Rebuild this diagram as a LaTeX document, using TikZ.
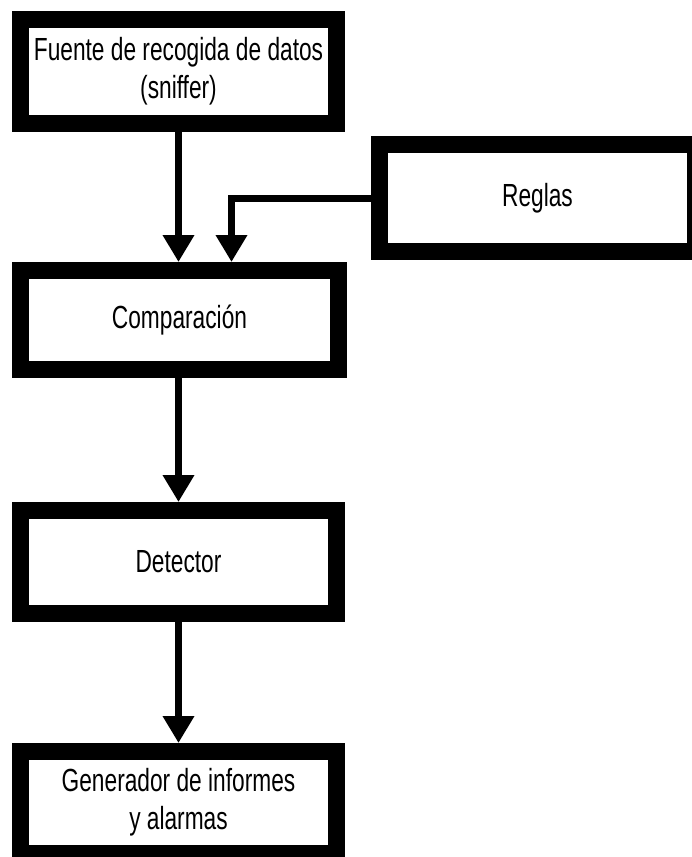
\documentclass[tikz,border=0pt]{standalone}
\usepackage{fontspec}
\setmainfont[FakeStretch=0.71]{Liberation Sans}
\usetikzlibrary{arrows.meta}

\tikzset{
  stage/.style={draw=black, line width=17pt, fill=white, inner sep=0pt,
    minimum width=316pt, align=center,
    font=\fontsize{32}{38}\selectfont},
  flow/.style={line width=7pt, draw=black,
    -{Triangle[width=30pt,length=27pt]}}
}

\begin{document}
\begin{tikzpicture}[x=1pt, y=-1pt]
  \useasboundingbox (0,0) rectangle (692,857);

  % processing stages
  \node[stage, minimum height=104pt] (src)    at (178.5, 71.5) {Fuente de recogida de datos\\(sniffer)};
  \node[stage, minimum height=107pt] (rules)  at (537.5, 198)  {Reglas};
  \node[stage, minimum height=99pt, minimum width=318pt] (comp) at (179.5, 320) {Comparación};
  \node[stage, minimum height=103pt] (det)    at (178.5, 562)  {Detector};
  \node[stage, minimum height=102pt] (gen)    at (178.5, 802.5) {Generador de informes\\y alarmas};

  % data flow
  \draw[flow] (src.south) -- (src.south |- comp.north);
  \draw[flow] (rules.west) -| ([xshift=52pt]comp.north);
  \draw[flow] (comp.south -| det.north) -- (det.north);
  \draw[flow] (det.south) -- (gen.north);
\end{tikzpicture}
\end{document}
